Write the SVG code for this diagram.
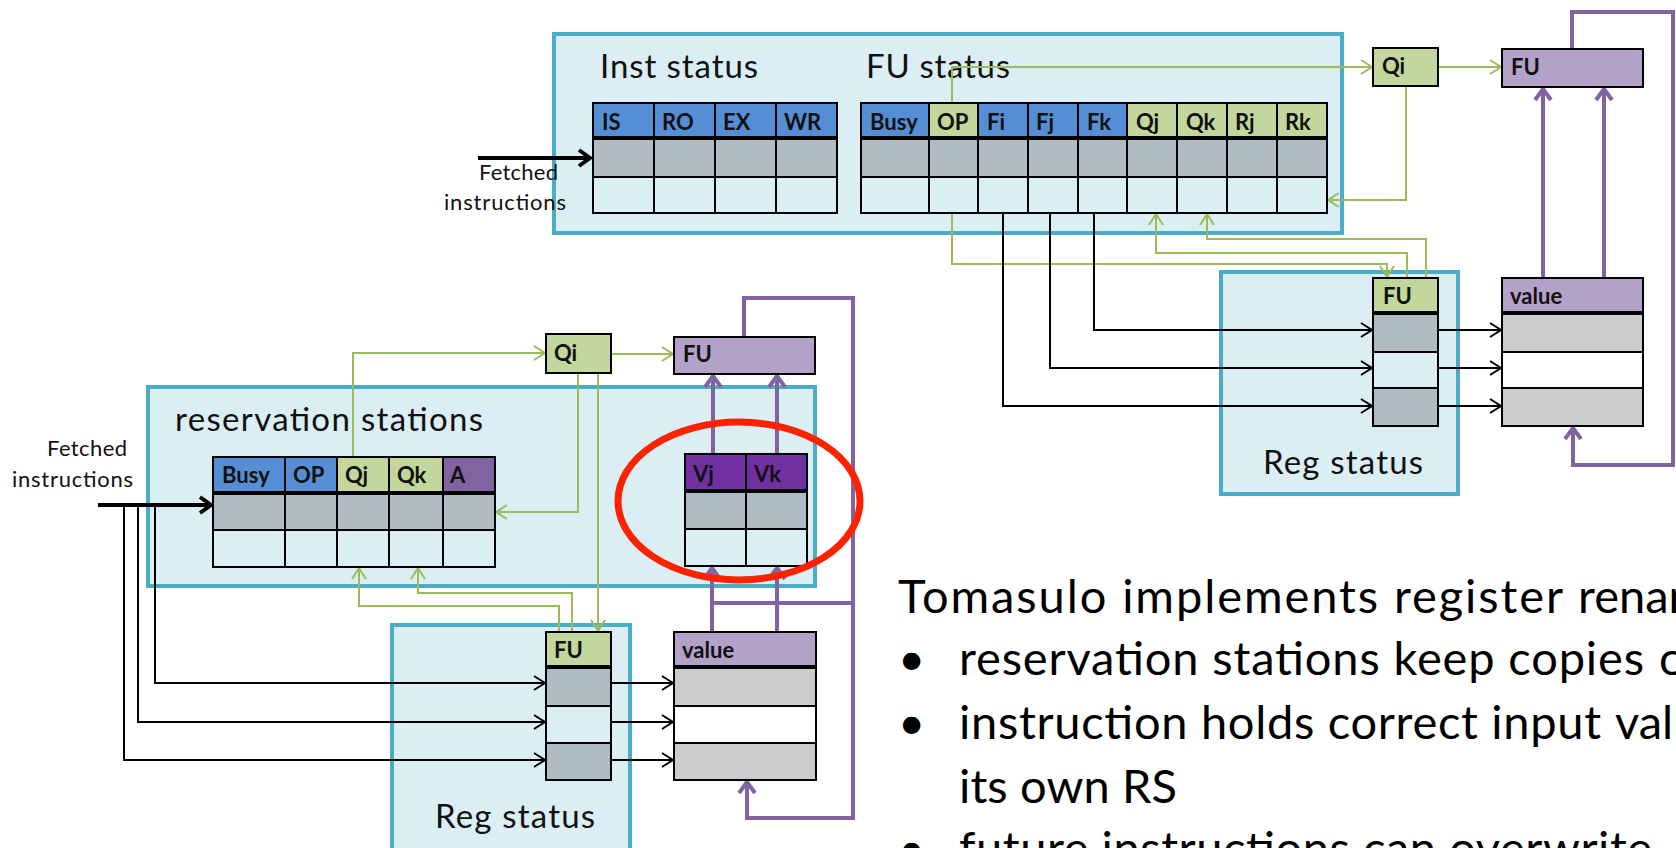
<svg xmlns="http://www.w3.org/2000/svg" width="1676" height="848" viewBox="0 0 1676 848">
  <style>
    .panel { fill: #dbeef4; stroke: #4bacc6; stroke-width: 4; }
    .cell { stroke: #000; stroke-width: 2; }
    .sep { stroke: #000; stroke-width: 4; }
    .hb { fill: #558ed5; }
    .hg { fill: #c3d69b; }
    .hp { fill: #b3a2c7; }
    .ha { fill: #8064a2; }
    .hv { fill: #7030a0; }
    .r1 { fill: #afbdc3; }
    .r2 { fill: #dbeef4; }
    .vg { fill: #cccccc; }
    .vw { fill: #ffffff; }
    .title { font-family: Lato, "Liberation Sans", sans-serif; font-size: 33px; fill: #111; }
    .hdr { font-family: Lato, "Liberation Sans", sans-serif; font-size: 22px; font-weight: bold; fill: #111; }
    .small { font-family: Lato, "Liberation Sans", sans-serif; font-size: 22px; fill: #111; }
    .body { font-family: Lato, "Liberation Sans", sans-serif; font-size: 47px; fill: #000; }
    .green { fill: none; stroke: #9bbb59; stroke-width: 2; marker-end: url(#ag); }
    .black { fill: none; stroke: #000; stroke-width: 2; marker-end: url(#ak); }
    .thick { fill: none; stroke: #000; stroke-width: 4; marker-end: url(#at); }
    .purple { fill: none; stroke: #8064a2; stroke-width: 4; }
    .purple-arrow { fill: none; stroke: #8064a2; stroke-width: 4; marker-end: url(#ap); }
  </style>
  <defs>
    <marker id="ag" markerUnits="userSpaceOnUse" viewBox="-14 -10 16 20" markerWidth="16" markerHeight="20" refX="0" refY="0" orient="auto">
      <path d="M-11,-7 L0,0 L-11,7" fill="none" stroke="#9bbb59" stroke-width="2"/>
    </marker>
    <marker id="ak" markerUnits="userSpaceOnUse" viewBox="-14 -10 16 20" markerWidth="16" markerHeight="20" refX="0" refY="0" orient="auto">
      <path d="M-11,-7 L0,0 L-11,7" fill="none" stroke="#000" stroke-width="2"/>
    </marker>
    <marker id="at" markerUnits="userSpaceOnUse" viewBox="-16 -12 18 24" markerWidth="18" markerHeight="24" refX="0" refY="0" orient="auto">
      <path d="M-12,-8 L-1,0 L-12,8" fill="none" stroke="#000" stroke-width="4"/>
    </marker>
    <marker id="ap" markerUnits="userSpaceOnUse" viewBox="-16 -12 18 24" markerWidth="18" markerHeight="24" refX="0" refY="0" orient="auto">
      <path d="M-12,-8 L-1,0 L-12,8" fill="none" stroke="#8064a2" stroke-width="4"/>
    </marker>
  </defs>

  <rect width="1676" height="848" fill="#ffffff"/>

  <!-- container panels -->
  <g id="status-panel">
    <rect class="panel" x="554" y="34" width="788" height="199"/>
    <text class="title" x="600" y="78" textLength="158">Inst status</text>
    <text class="title" x="866" y="78" textLength="144">FU status</text>
  </g>
  <g id="reg-status-panel-top">
    <rect class="panel" x="1221" y="272" width="237" height="222"/>
    <text class="title" x="1263" y="474" textLength="160">Reg status</text>
  </g>
  <g id="rs-panel">
    <rect class="panel" x="148" y="387" width="667" height="199"/>
    <text class="title" x="175" y="431" textLength="308">reservation stations</text>
  </g>
  <g id="reg-status-panel-bottom">
    <rect class="panel" x="392" y="625" width="238" height="245"/>
    <text class="title" x="435" y="828" textLength="160">Reg status</text>
  </g>

  <!-- connectors -->
  <g id="connectors">
    <!-- upper unit: green tag paths -->
    <path class="green" d="M952,103 V67 H1372"/>
    <path class="green" d="M1438,67 H1501"/>
    <path class="green" d="M1406,86 V200 H1328"/>
    <path class="green" d="M952,213 V264 H1387 V277"/>
    <path class="green" d="M1407,278 V253 H1156 V214"/>
    <path class="green" d="M1426,278 V239 H1207 V214"/>
    <!-- upper unit: register selectors -->
    <path class="black" d="M1094,213 V330 H1372"/>
    <path class="black" d="M1050,213 V368 H1372"/>
    <path class="black" d="M1003,213 V406 H1372"/>
    <path class="black" d="M1438,330 H1501"/>
    <path class="black" d="M1438,368 H1501"/>
    <path class="black" d="M1438,406 H1501"/>
    <path class="thick" d="M478,158 H591"/>
    <!-- upper unit: result bus -->
    <path class="purple-arrow" d="M1572,49 V12 H1673 V465 H1573 V427"/>
    <path class="purple-arrow" d="M1543,278 V88"/>
    <path class="purple-arrow" d="M1604,278 V88"/>

    <!-- lower unit: green tag paths -->
    <path class="green" d="M353,457 V353 H545"/>
    <path class="green" d="M611,354 H673"/>
    <path class="green" d="M578,373 V512 H496"/>
    <path class="green" d="M598,373 V631"/>
    <path class="green" d="M559,632 V606 H359 V568"/>
    <path class="green" d="M572,632 V593 H418 V568"/>
    <!-- lower unit: register selectors -->
    <path class="thick" d="M98,505 H212"/>
    <path class="black" d="M155,505 V683 H545"/>
    <path class="black" d="M138,505 V722 H545"/>
    <path class="black" d="M124,505 V760 H545"/>
    <path class="black" d="M611,683 H673"/>
    <path class="black" d="M611,722 H673"/>
    <path class="black" d="M611,760 H673"/>
    <!-- lower unit: result bus and operand paths -->
    <path class="purple-arrow" d="M744,337 V298 H853 V818 H747 V781"/>
    <path class="purple" d="M712,603 H853"/>
    <path class="purple-arrow" d="M713,454 V375"/>
    <path class="purple-arrow" d="M777,454 V375"/>
    <path class="purple-arrow" d="M712,632 V567"/>
    <path class="purple-arrow" d="M777,632 V567"/>
  </g>

  <!-- instruction status table -->
  <g id="inst-status">
    <rect class="cell hb" x="593" y="103" width="61" height="35"/>
    <rect class="cell hb" x="654" y="103" width="61" height="35"/>
    <rect class="cell hb" x="715" y="103" width="61" height="35"/>
    <rect class="cell hb" x="776" y="103" width="61" height="35"/>
    <rect class="cell r1" x="593" y="138" width="61" height="39"/>
    <rect class="cell r1" x="654" y="138" width="61" height="39"/>
    <rect class="cell r1" x="715" y="138" width="61" height="39"/>
    <rect class="cell r1" x="776" y="138" width="61" height="39"/>
    <rect class="cell r2" x="593" y="177" width="61" height="36"/>
    <rect class="cell r2" x="654" y="177" width="61" height="36"/>
    <rect class="cell r2" x="715" y="177" width="61" height="36"/>
    <rect class="cell r2" x="776" y="177" width="61" height="36"/>
    <line class="sep" x1="592" y1="138" x2="838" y2="138"/>
    <text class="hdr" x="602" y="130">IS</text>
    <text class="hdr" x="662" y="130">RO</text>
    <text class="hdr" x="723" y="130">EX</text>
    <text class="hdr" x="784" y="130">WR</text>
    <text class="small" x="479" y="180" textLength="79">Fetched</text>
    <text class="small" x="444" y="210" textLength="122">instructions</text>
  </g>

  <!-- functional unit status table -->
  <g id="fu-status">
    <rect class="cell hb" x="861" y="103" width="68" height="35"/>
    <rect class="cell hg" x="929" y="103" width="49" height="35"/>
    <rect class="cell hb" x="978" y="103" width="50" height="35"/>
    <rect class="cell hb" x="1028" y="103" width="50" height="35"/>
    <rect class="cell hb" x="1078" y="103" width="49" height="35"/>
    <rect class="cell hg" x="1127" y="103" width="50" height="35"/>
    <rect class="cell hg" x="1177" y="103" width="50" height="35"/>
    <rect class="cell hg" x="1227" y="103" width="50" height="35"/>
    <rect class="cell hg" x="1277" y="103" width="50" height="35"/>
    <rect class="cell r1" x="861" y="138" width="68" height="39"/>
    <rect class="cell r1" x="929" y="138" width="49" height="39"/>
    <rect class="cell r1" x="978" y="138" width="50" height="39"/>
    <rect class="cell r1" x="1028" y="138" width="50" height="39"/>
    <rect class="cell r1" x="1078" y="138" width="49" height="39"/>
    <rect class="cell r1" x="1127" y="138" width="50" height="39"/>
    <rect class="cell r1" x="1177" y="138" width="50" height="39"/>
    <rect class="cell r1" x="1227" y="138" width="50" height="39"/>
    <rect class="cell r1" x="1277" y="138" width="50" height="39"/>
    <rect class="cell r2" x="861" y="177" width="68" height="36"/>
    <rect class="cell r2" x="929" y="177" width="49" height="36"/>
    <rect class="cell r2" x="978" y="177" width="50" height="36"/>
    <rect class="cell r2" x="1028" y="177" width="50" height="36"/>
    <rect class="cell r2" x="1078" y="177" width="49" height="36"/>
    <rect class="cell r2" x="1127" y="177" width="50" height="36"/>
    <rect class="cell r2" x="1177" y="177" width="50" height="36"/>
    <rect class="cell r2" x="1227" y="177" width="50" height="36"/>
    <rect class="cell r2" x="1277" y="177" width="50" height="36"/>
    <line class="sep" x1="860" y1="138" x2="1328" y2="138"/>
    <text class="hdr" x="870" y="130">Busy</text>
    <text class="hdr" x="937" y="130">OP</text>
    <text class="hdr" x="987" y="130">Fi</text>
    <text class="hdr" x="1036" y="130">Fj</text>
    <text class="hdr" x="1087" y="130">Fk</text>
    <text class="hdr" x="1136" y="130">Qj</text>
    <text class="hdr" x="1186" y="130">Qk</text>
    <text class="hdr" x="1235" y="130">Rj</text>
    <text class="hdr" x="1285" y="130">Rk</text>
  </g>

  <g id="qi-top">
    <rect class="cell hg" x="1373" y="48" width="65" height="38"/>
    <text class="hdr" x="1382" y="74">Qi</text>
  </g>
  <g id="fu-top">
    <rect class="cell hp" x="1502" y="49" width="141" height="38"/>
    <text class="hdr" x="1511" y="75">FU</text>
  </g>

  <g id="reg-fu-top">
    <rect class="cell hg" x="1373" y="278" width="65" height="35"/>
    <rect class="cell r1" x="1373" y="313" width="65" height="39"/>
    <rect class="cell r2" x="1373" y="352" width="65" height="36"/>
    <rect class="cell r1" x="1373" y="388" width="65" height="38"/>
    <line class="sep" x1="1372" y1="313" x2="1439" y2="313"/>
    <text class="hdr" x="1383" y="304">FU</text>
  </g>
  <g id="value-top">
    <rect class="cell hp" x="1502" y="278" width="141" height="35"/>
    <rect class="cell vg" x="1502" y="313" width="141" height="39"/>
    <rect class="cell vw" x="1502" y="352" width="141" height="36"/>
    <rect class="cell vg" x="1502" y="388" width="141" height="38"/>
    <line class="sep" x1="1501" y1="313" x2="1644" y2="313"/>
    <text class="hdr" x="1510" y="304">value</text>
  </g>

  <!-- reservation station table -->
  <g id="rs-table">
    <rect class="cell hb" x="213" y="457" width="72" height="36"/>
    <rect class="cell hb" x="285" y="457" width="52" height="36"/>
    <rect class="cell hg" x="337" y="457" width="52" height="36"/>
    <rect class="cell hg" x="389" y="457" width="54" height="36"/>
    <rect class="cell ha" x="443" y="457" width="52" height="36"/>
    <rect class="cell r1" x="213" y="493" width="72" height="37"/>
    <rect class="cell r1" x="285" y="493" width="52" height="37"/>
    <rect class="cell r1" x="337" y="493" width="52" height="37"/>
    <rect class="cell r1" x="389" y="493" width="54" height="37"/>
    <rect class="cell r1" x="443" y="493" width="52" height="37"/>
    <rect class="cell r2" x="213" y="530" width="72" height="37"/>
    <rect class="cell r2" x="285" y="530" width="52" height="37"/>
    <rect class="cell r2" x="337" y="530" width="52" height="37"/>
    <rect class="cell r2" x="389" y="530" width="54" height="37"/>
    <rect class="cell r2" x="443" y="530" width="52" height="37"/>
    <line class="sep" x1="212" y1="493" x2="496" y2="493"/>
    <text class="hdr" x="222" y="483">Busy</text>
    <text class="hdr" x="293" y="483">OP</text>
    <text class="hdr" x="345" y="483">Qj</text>
    <text class="hdr" x="397" y="483">Qk</text>
    <text class="hdr" x="450" y="483">A</text>
    <text class="small" x="47" y="456" textLength="80">Fetched</text>
    <text class="small" x="12" y="487" textLength="121">instructions</text>
  </g>

  <g id="operand-values">
    <rect class="cell hv" x="685" y="454" width="61" height="37"/>
    <rect class="cell hv" x="746" y="454" width="61" height="37"/>
    <rect class="cell r1" x="685" y="491" width="61" height="38"/>
    <rect class="cell r1" x="746" y="491" width="61" height="38"/>
    <rect class="cell r2" x="685" y="529" width="61" height="37"/>
    <rect class="cell r2" x="746" y="529" width="61" height="37"/>
    <line class="sep" x1="684" y1="491" x2="808" y2="491"/>
    <text class="hdr" x="693" y="482">Vj</text>
    <text class="hdr" x="754" y="482">Vk</text>
  </g>

  <g id="qi-bottom">
    <rect class="cell hg" x="546" y="334" width="65" height="39"/>
    <text class="hdr" x="554" y="361">Qi</text>
  </g>
  <g id="fu-bottom">
    <rect class="cell hp" x="674" y="337" width="141" height="37"/>
    <text class="hdr" x="683" y="362">FU</text>
  </g>

  <g id="reg-fu-bottom">
    <rect class="cell hg" x="546" y="632" width="65" height="35"/>
    <rect class="cell r1" x="546" y="667" width="65" height="39"/>
    <rect class="cell r2" x="546" y="706" width="65" height="37"/>
    <rect class="cell r1" x="546" y="743" width="65" height="37"/>
    <line class="sep" x1="545" y1="667" x2="612" y2="667"/>
    <text class="hdr" x="554" y="658">FU</text>
  </g>
  <g id="value-bottom">
    <rect class="cell hp" x="674" y="632" width="142" height="35"/>
    <rect class="cell vg" x="674" y="667" width="142" height="39"/>
    <rect class="cell vw" x="674" y="706" width="142" height="37"/>
    <rect class="cell vg" x="674" y="743" width="142" height="37"/>
    <line class="sep" x1="673" y1="667" x2="817" y2="667"/>
    <text class="hdr" x="682" y="658">value</text>
  </g>

  <!-- highlight around the operand value fields -->
  <g id="highlight">
    <ellipse cx="739" cy="501" rx="121" ry="79" fill="none" stroke="#ff2200" stroke-width="7"/>
  </g>

  <!-- explanatory notes -->
  <g id="notes">
    <text class="body" y="613"><tspan x="898" textLength="665" lengthAdjust="spacing">Tomasulo implements register</tspan><tspan x="1578">renaming</tspan></text>
    <text class="body" x="898" y="675">•</text>
    <text class="body" y="675"><tspan x="959" textLength="685" lengthAdjust="spacing">reservation stations keep copies</tspan><tspan x="1659">of</tspan></text>
    <text class="body" x="898" y="739">•</text>
    <text class="body" y="739"><tspan x="959" textLength="642" lengthAdjust="spacing">instruction holds correct input</tspan><tspan x="1615">values</tspan></text>
    <text class="body" x="959" y="803" textLength="218" lengthAdjust="spacing">its own RS</text>
    <text class="body" x="898" y="865">•</text>
    <text class="body" x="959" y="865" textLength="693" lengthAdjust="spacing">future instructions can overwrite</text>
  </g>
</svg>
